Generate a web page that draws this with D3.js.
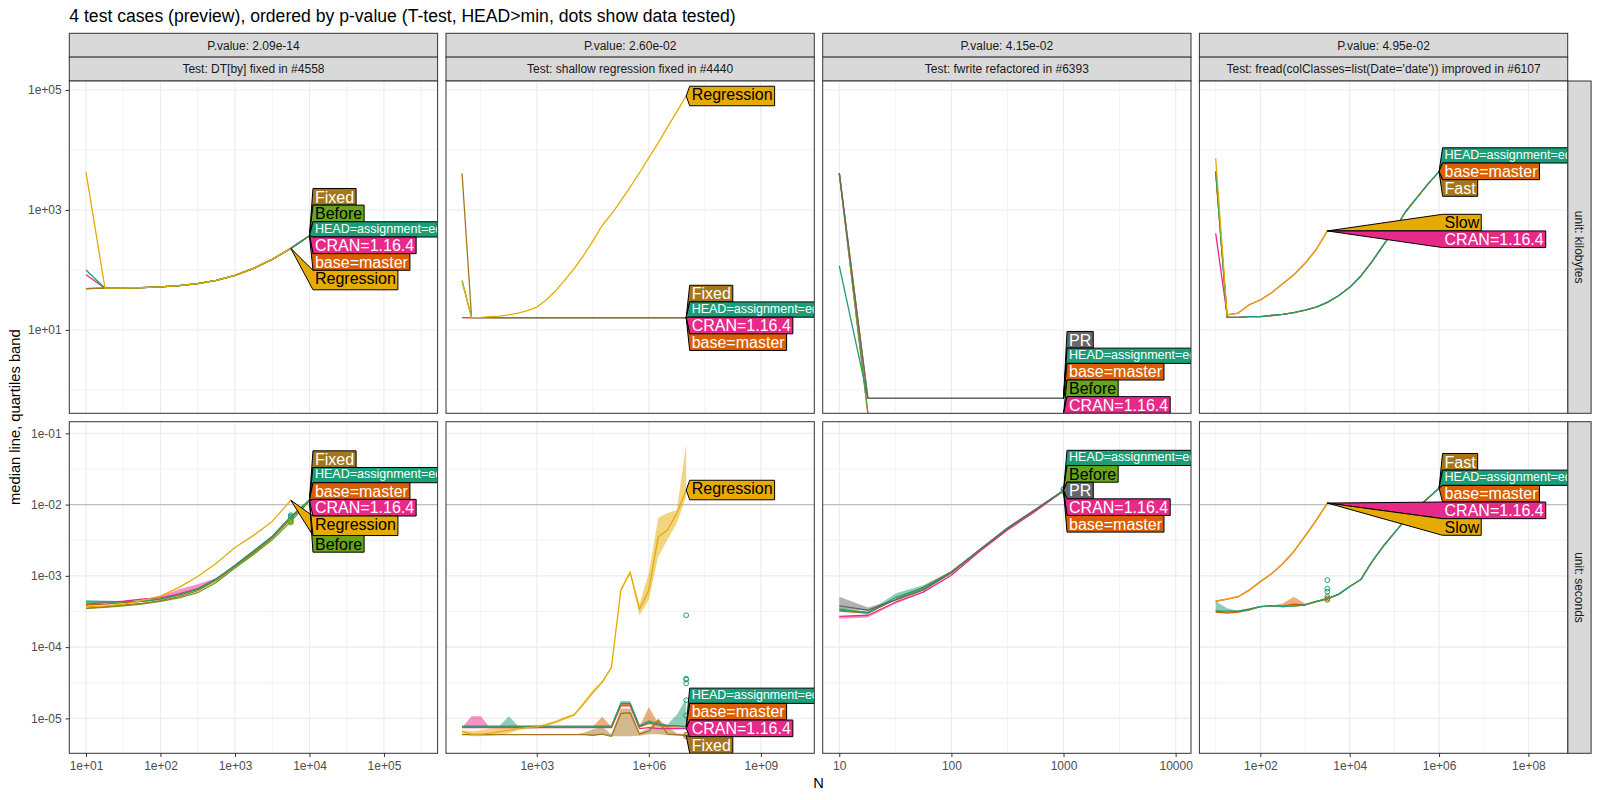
<!DOCTYPE html>
<html lang="en">
<head>
  <meta charset="UTF-8">
  <title>atime test cases</title>
  <script src="https://d3js.org/d3.v7.min.js"></script>
  <style>
    body { margin: 0; background: #fff; }
    svg text { font-family: "Liberation Sans", Arial, Helvetica, sans-serif; }
  </style>
</head>
<body>
<script>
// ---------------- data ----------------
const title = "4 test cases (preview), ordered by p-value (T-test, HEAD>min, dots show data tested)";
const pValues = ["P.value: 2.09e-14", "P.value: 2.60e-02", "P.value: 4.15e-02", "P.value: 4.95e-02"];
const testNames = [
  "Test: DT[by] fixed in #4558",
  "Test: shallow regression fixed in #4440",
  "Test: fwrite refactored in #6393",
  "Test: fread(colClasses=list(Date='date')) improved in #6107"
];
const units = ["unit: kilobytes", "unit: seconds"];

// tick labels
const xMajorTicks = [[1e1, 1e2, 1e3, 1e4, 1e5], [1e3, 1e6, 1e9], [10, 100, 1000, 10000], [1e2, 1e4, 1e6, 1e8]];
const xMinorTicks = [[10 ** 1.5, 10 ** 2.5, 10 ** 3.5, 10 ** 4.5, 10 ** 5.5], [10 ** 1.5, 10 ** 4.5, 10 ** 7.5], [10 ** 1.5, 10 ** 2.5, 10 ** 3.5], [1e1, 1e3, 1e5, 1e7]];
const yMajorTicks = [[1e1, 1e3, 1e5], [1e-5, 1e-4, 1e-3, 1e-2, 1e-1]];
const yMinorTicks = [[1e0, 1e2, 1e4], [10 ** -4.5, 10 ** -3.5, 10 ** -2.5, 10 ** -1.5]];

// --- DT[by] ---
const byN = [10, 18, 32, 56, 100, 178, 316, 562, 1000, 1780, 3160, 5620, 10000];
const byKbHEAD = [100, 49.6, 50, 50.8, 52.2, 54.7, 59, 67, 81, 106, 150, 229, 372];
const byKbBase = [49, 49.6, 50, 50.8, 52.2, 54.7, 59, 67, 81, 106, 150, 229, 372];
const byKbCRAN = [83, 49.6, 50, 50.8, 52.2, 54.7, 59, 67, 81, 106, 150, 229, 372];
const byKbBefore = [49, 49.6, 50, 50.8, 52.2, 54.7, 59, 67, 81, 106, 150, 229, 372];
const byKbFixed = [49, 49.6, 50, 50.8, 52.2, 54.7, 59, 67, 81, 106, 150, 229, 372];
const byKbRegression = [4260, 49.6, 50, 50.8, 52.2, 54.7, 59, 67, 81, 106, 150, 229];
const bySecHEAD = [4.3e-4, 4.3e-4, 4.3e-4, 4.4e-4, 4.7e-4, 5.4e-4, 6.5e-4, 9.1e-4, 1.41e-3, 2.24e-3, 3.6e-3, 6.8e-3, 1.15e-2];
const bySecHEADLo = [3.9e-4, 4.1e-4, 4.3e-4, 4.4e-4, 4.7e-4, 5.4e-4, 6.5e-4, 9.1e-4, 1.41e-3, 2.24e-3, 3.6e-3, 6.8e-3, 1.15e-2];
const bySecHEADHi = [4.6e-4, 4.5e-4, 4.4e-4, 4.4e-4, 4.7e-4, 5.4e-4, 6.5e-4, 9.1e-4, 1.41e-3, 2.24e-3, 3.6e-3, 6.8e-3, 1.15e-2];
const bySecBase = [3.9e-4, 4.0e-4, 4.2e-4, 4.4e-4, 4.7e-4, 5.4e-4, 6.5e-4, 8.9e-4, 1.38e-3, 2.2e-3, 3.5e-3, 6.6e-3, 1.15e-2];
const bySecCRAN = [4.0e-4, 4.2e-4, 4.4e-4, 4.7e-4, 4.9e-4, 5.6e-4, 6.6e-4, 9.1e-4, 1.38e-3, 2.2e-3, 3.5e-3, 6.5e-3, 1.12e-2];
const bySecCRANHi = [4.0e-4, 4.2e-4, 4.4e-4, 4.7e-4, 5.2e-4, 6.5e-4, 7.6e-4, 9.3e-4, 1.38e-3, 2.2e-3, 3.5e-3, 6.5e-3, 1.12e-2];
const bySecBefore = [3.5e-4, 3.6e-4, 3.8e-4, 4.0e-4, 4.4e-4, 4.9e-4, 5.8e-4, 8.1e-4, 1.29e-3, 2.0e-3, 3.2e-3, 5.8e-3, 1.12e-2];
const bySecFixed = [3.5e-4, 3.7e-4, 3.9e-4, 4.1e-4, 4.5e-4, 5.1e-4, 6.2e-4, 8.7e-4, 1.35e-3, 2.1e-3, 3.4e-3, 6.3e-3, 1.17e-2];
const bySecRegression = [3.7e-4, 3.8e-4, 4.0e-4, 4.5e-4, 5.2e-4, 6.9e-4, 9.8e-4, 1.5e-3, 2.5e-3, 3.7e-3, 5.8e-3, 1.15e-2];
const byDotN = 5620;
const byDotsHEAD = [7.1e-3, 6.8e-3, 6.6e-3];
const byDotsBefore = [6.0e-3, 5.8e-3, 5.6e-3];

// --- shallow regression ---
const shN = [10, 18, 32, 56, 100, 178, 316, 562, 1e3, 1.78e3, 3.16e3, 5.62e3, 1e4, 1.78e4, 3.16e4, 5.62e4,
  1e5, 1.78e5, 3.16e5, 5.62e5, 1e6, 1.78e6, 3.16e6, 5.62e6, 1e7];
const shKbRegression = [66, 16, 16.2, 16.6, 17, 17.8, 19, 20.9, 24, 31.6, 44.7, 67.6, 105, 174, 302, 550,
  851, 1413, 2399, 4169, 7413, 13183, 23988, 43652, 79433];
const shKbHEAD = [66, 16, 16, 16, 16, 16, 16, 16, 16, 16, 16, 16, 16, 16, 16, 16, 16, 16, 16, 16, 16, 16, 16, 16, 16];
const shKbCRAN = [16, 16, 16, 16, 16, 16, 16, 16, 16, 16, 16, 16, 16, 16, 16, 16, 16, 16, 16, 16, 16, 16, 16, 16, 16];
const shKbBase = [16, 16, 16, 16, 16, 16, 16, 16, 16, 16, 16, 16, 16, 16, 16, 16, 16, 16, 16, 16, 16, 16, 16, 16, 16];
const shKbFixed = [4100, 16, 16, 16, 16, 16, 16, 16, 16, 16, 16, 16, 16, 16, 16, 16, 16, 16, 16, 16, 16, 16, 16, 16, 16];
const shSecRegression = [6.5e-6, 6.0e-6, 6.0e-6, 6.2e-6, 6.5e-6, 6.8e-6, 7.2e-6, 7.4e-6, 7.6e-6, 8.1e-6,
  8.9e-6, 1.0e-5, 1.12e-5, 1.6e-5, 2.3e-5, 3.2e-5, 5.2e-5, 6.3e-4, 1.12e-3, 3.4e-4,
  6.3e-4, 3.5e-3, 4.4e-3, 7.6e-3, 1.6e-2];
const shSecRegressionLo = [6.2e-6, 5.6e-6, 5.6e-6, 5.7e-6, 5.9e-6, 6.2e-6, 6.8e-6, 7.1e-6, 7.2e-6, 7.8e-6,
  8.5e-6, 9.6e-6, 1.08e-5, 1.5e-5, 2.2e-5, 3.1e-5, 5.0e-5, 6.0e-4, 1.05e-3, 2.8e-4,
  4.6e-4, 1.86e-3, 3.2e-3, 5.5e-3, 1.29e-2];
const shSecRegressionHi = [6.8e-6, 6.6e-6, 6.8e-6, 7.2e-6, 7.4e-6, 7.6e-6, 7.8e-6, 7.8e-6, 7.9e-6, 8.5e-6,
  9.3e-6, 1.05e-5, 1.17e-5, 1.7e-5, 2.5e-5, 3.4e-5, 5.4e-5, 6.6e-4, 1.2e-3, 4.0e-4,
  1.1e-3, 6.5e-3, 7.6e-3, 8.3e-3, 7.2e-2];
const shSecHEAD = [7.8e-6, 7.8e-6, 7.8e-6, 7.8e-6, 7.8e-6, 7.8e-6, 7.8e-6, 7.8e-6, 7.8e-6, 7.8e-6,
  7.8e-6, 7.8e-6, 7.8e-6, 7.8e-6, 7.8e-6, 7.8e-6, 7.8e-6, 1.62e-5, 1.62e-5, 7.8e-6,
  8.9e-6, 8.3e-6, 7.9e-6, 7.9e-6, 7.6e-6];
const shSecHEADHi = [7.8e-6, 7.8e-6, 7.8e-6, 7.8e-6, 7.8e-6, 1.07e-5, 7.8e-6, 7.8e-6, 7.8e-6, 7.8e-6,
  7.8e-6, 7.8e-6, 7.8e-6, 7.8e-6, 7.8e-6, 7.8e-6, 7.8e-6, 1.75e-5, 1.75e-5, 8.2e-6,
  9.5e-6, 8.6e-6, 8.2e-6, 1.12e-5, 1.9e-5];
const shSecBase = [7.6e-6, 7.6e-6, 7.6e-6, 7.6e-6, 7.6e-6, 7.6e-6, 7.6e-6, 7.6e-6, 7.6e-6, 7.6e-6,
  7.6e-6, 7.6e-6, 7.6e-6, 7.6e-6, 7.6e-6, 7.6e-6, 7.6e-6, 1.55e-5, 1.55e-5, 7.6e-6,
  8.5e-6, 8.1e-6, 7.6e-6, 7.6e-6, 7.6e-6];
const shSecBaseHi = [7.6e-6, 7.6e-6, 7.6e-6, 7.6e-6, 7.6e-6, 7.6e-6, 7.6e-6, 7.6e-6, 7.6e-6, 7.6e-6,
  7.6e-6, 7.6e-6, 7.6e-6, 7.6e-6, 7.6e-6, 1.05e-5, 7.6e-6, 1.6e-5, 1.6e-5, 7.6e-6,
  1.45e-5, 8.5e-6, 7.6e-6, 7.6e-6, 7.6e-6];
const shSecCRAN = [7.4e-6, 7.4e-6, 7.4e-6, 7.4e-6, 7.4e-6, 7.4e-6, 7.4e-6, 7.4e-6, 7.4e-6, 7.4e-6,
  7.4e-6, 7.4e-6, 7.4e-6, 7.4e-6, 7.4e-6, 7.4e-6, 7.4e-6, 1.5e-5, 1.5e-5, 7.2e-6,
  7.4e-6, 7.2e-6, 7.2e-6, 7.2e-6, 7.2e-6];
const shSecCRANHi = [7.4e-6, 1.07e-5, 1.07e-5, 7.4e-6, 7.4e-6, 7.4e-6, 7.4e-6, 7.4e-6, 7.4e-6, 7.4e-6,
  7.4e-6, 7.4e-6, 7.4e-6, 7.4e-6, 7.4e-6, 7.4e-6, 7.4e-6, 1.5e-5, 1.5e-5, 7.2e-6,
  7.4e-6, 7.2e-6, 7.2e-6, 7.2e-6, 7.2e-6];
const shSecFixed = [5.9e-6, 5.9e-6, 5.9e-6, 5.9e-6, 5.9e-6, 5.9e-6, 5.9e-6, 5.9e-6, 5.9e-6, 5.9e-6,
  5.9e-6, 5.9e-6, 5.9e-6, 5.9e-6, 5.8e-6, 6.0e-6, 5.6e-6, 1.17e-5, 1.2e-5, 6.0e-6,
  6.6e-6, 9.3e-6, 6.0e-6, 5.9e-6, 5.75e-6];
const shSecFixedLo = [5.9e-6, 5.9e-6, 5.9e-6, 5.9e-6, 5.9e-6, 5.9e-6, 5.9e-6, 5.9e-6, 5.9e-6, 5.9e-6,
  5.9e-6, 5.9e-6, 5.9e-6, 5.9e-6, 5.8e-6, 6.0e-6, 5.6e-6, 5.6e-6, 5.6e-6, 5.7e-6,
  6.0e-6, 6.0e-6, 5.8e-6, 5.7e-6, 5.6e-6];
const shSecFixedHi = [5.9e-6, 5.9e-6, 5.9e-6, 5.9e-6, 5.9e-6, 5.9e-6, 5.9e-6, 5.9e-6, 5.9e-6, 5.9e-6,
  5.9e-6, 5.9e-6, 5.9e-6, 6.3e-6, 7.0e-6, 7.6e-6, 6.0e-6, 1.38e-5, 1.38e-5, 6.4e-6,
  7.2e-6, 1.0e-5, 7.6e-6, 6.2e-6, 5.9e-6];
const shDotN = 1e7;
const shDotsHEAD = [2.8e-4, 3.6e-5, 3.5e-5, 3.1e-5, 1.8e-5, 1.1e-5];
const shDotsFixed = [5.6e-6, 5.9e-6];

// --- fwrite ---
const fwN = [10, 18, 32, 56, 100, 178, 316, 562, 1000];
const fwKbPR = [4100, 0.72, 0.72, 0.72, 0.72, 0.72, 0.72, 0.72, 0.72];
const fwKbHEAD = [117, 0.72, 0.72, 0.72, 0.72, 0.72, 0.72, 0.72, 0.72];
const fwKbBase = [4100, 0.72, 0.72, 0.72, 0.72, 0.72, 0.72, 0.72, 0.72];
const fwKbBefore = [4100, 0.4, 0.4, 0.4, 0.4, 0.4, 0.4, 0.4, 0.4];
const fwKbCRAN = [4100, 0.4, 0.4, 0.4, 0.4, 0.4, 0.4, 0.4, 0.4];
const fwSecHEAD = [3.4e-4, 3.0e-4, 5.0e-4, 6.8e-4, 1.12e-3, 2.3e-3, 4.7e-3, 8.5e-3, 1.58e-2];
const fwSecHEADHi = [3.6e-4, 3.1e-4, 5.7e-4, 7.4e-4, 1.15e-3, 2.3e-3, 4.7e-3, 8.5e-3, 1.58e-2];
const fwSecBefore = [3.3e-4, 3.1e-4, 4.7e-4, 6.5e-4, 1.12e-3, 2.3e-3, 4.6e-3, 8.5e-3, 1.58e-2];
const fwSecPR = [3.8e-4, 3.3e-4, 4.6e-4, 6.3e-4, 1.1e-3, 2.3e-3, 4.6e-3, 8.5e-3, 1.58e-2];
const fwSecPRLo = [3.5e-4, 3.2e-4, 4.6e-4, 6.3e-4, 1.1e-3, 2.3e-3, 4.6e-3, 8.5e-3, 1.58e-2];
const fwSecPRHi = [5.1e-4, 3.6e-4, 4.7e-4, 6.3e-4, 1.1e-3, 2.3e-3, 4.6e-3, 8.5e-3, 1.58e-2];
const fwSecCRAN = [2.7e-4, 2.8e-4, 4.3e-4, 5.9e-4, 1.02e-3, 2.2e-3, 4.4e-3, 8.1e-3, 1.55e-2];
const fwSecCRANLo = [2.5e-4, 2.6e-4, 4.1e-4, 5.8e-4, 1.0e-3, 2.2e-3, 4.4e-3, 8.1e-3, 1.55e-2];
const fwSecBase = [3.2e-4, 3.0e-4, 4.7e-4, 6.9e-4, 1.15e-3, 2.3e-3, 4.7e-3, 8.5e-3, 1.55e-2];
const fwDotN = 1000;
const fwDotsHEAD = [1.6e-2, 1.66e-2];
const fwDotsBase = [1.52e-2];

// --- fread ---
const frN = [10, 18, 32, 56, 100, 178, 316, 562, 1e3, 1.78e3, 3.16e3, 5.62e3, 1e4, 1.78e4, 3.16e4, 5.62e4,
  1e5, 1.78e5, 3.16e5, 5.62e5, 1e6];
const frKbHEAD = [4365, 16.2, 16.2, 16.6, 16.6, 17.4, 18.2, 19.5, 21.4, 24, 28.8, 37.2, 51.3, 79.4, 138, 257, 468, 933, 1585, 2692, 4365];
const frKbBase = [4365, 16.2, 16.2, 16.6, 16.6, 17.4, 18.2, 19.5, 21.4, 24, 28.8, 37.2, 51.3, 79.4, 138, 257, 468, 933, 1585, 2692, 4365];
const frKbFast = [4365, 16.2, 16.2, 16.6, 16.6, 17.4, 18.2, 19.5, 21.4, 24, 28.8, 37.2, 51.3, 79.4, 138, 257, 468, 933, 1585, 2692, 4365];
const frKbSlow = [7244, 17.8, 19.1, 26.3, 31.6, 41.7, 58.9, 83.2, 129, 219, 447];
const frKbCRAN = [407, 17.8, 19.1, 26.3, 31.6, 41.7, 58.9, 83.2, 129, 219, 447];
const frSecHEAD = [3.2e-4, 3.2e-4, 3.2e-4, 3.4e-4, 3.7e-4, 3.8e-4, 3.7e-4, 3.8e-4, 3.9e-4, 4.4e-4, 4.8e-4,
  5.5e-4, 7.1e-4, 8.9e-4, 1.58e-3, 2.6e-3, 4.0e-3, 6.2e-3, 8.9e-3, 1.23e-2, 1.7e-2];
const frSecHEADHi = [4.4e-4, 3.5e-4, 3.2e-4, 3.4e-4, 3.7e-4, 3.8e-4, 3.7e-4, 3.8e-4, 3.9e-4, 4.4e-4, 5.0e-4,
  5.5e-4, 7.1e-4, 8.9e-4, 1.58e-3, 2.6e-3, 4.0e-3, 6.2e-3, 8.9e-3, 1.23e-2, 1.7e-2];
const frSecBase = [3.1e-4, 3.0e-4, 3.1e-4, 3.3e-4, 3.7e-4, 3.8e-4, 3.8e-4, 4.0e-4, 3.9e-4, 4.4e-4, 4.8e-4,
  5.5e-4, 7.1e-4, 8.9e-4, 1.58e-3, 2.6e-3, 4.0e-3, 6.2e-3, 8.9e-3, 1.23e-2, 1.7e-2];
const frSecBaseHi = [3.1e-4, 3.0e-4, 3.1e-4, 3.3e-4, 3.7e-4, 3.8e-4, 4.1e-4, 5.1e-4, 4.1e-4, 4.4e-4, 4.8e-4,
  5.5e-4, 7.1e-4, 8.9e-4, 1.58e-3, 2.6e-3, 4.0e-3, 6.2e-3, 8.9e-3, 1.23e-2, 1.7e-2];
const frSecFast = [3.2e-4, 3.1e-4, 3.2e-4, 3.4e-4, 3.7e-4, 3.8e-4, 3.7e-4, 3.8e-4, 3.9e-4, 4.3e-4, 4.7e-4,
  5.5e-4, 7.1e-4, 8.9e-4, 1.58e-3, 2.6e-3, 4.0e-3, 6.2e-3, 8.9e-3, 1.23e-2, 1.7e-2];
const frSecSlow = [4.4e-4, 4.7e-4, 5.1e-4, 6.3e-4, 8.3e-4, 1.07e-3, 1.48e-3, 2.2e-3, 3.6e-3, 6.0e-3, 1.05e-2];
const frSecCRAN = [4.4e-4, 4.7e-4, 5.1e-4, 6.3e-4, 8.3e-4, 1.07e-3, 1.48e-3, 2.2e-3, 3.6e-3, 6.0e-3, 1.05e-2];
const frDotN = 3160;
const frDotsHEAD = [8.7e-4, 6.6e-4, 6.0e-4, 5.1e-4];
const frDotsFast = [4.8e-4, 4.6e-4];

// label stacking order (top to bottom) in each panel
const byOrderKb = ["Fixed", "Before", "HEAD", "CRAN", "base", "Regression"];
const byOrderSec = ["Fixed", "HEAD", "base", "CRAN", "Regression", "Before"];
const shOrderKb = ["Regression", "Fixed", "HEAD", "CRAN", "base"];
const shOrderSec = ["Regression", "HEAD", "base", "CRAN", "Fixed"];
const fwOrderKb = ["PR", "HEAD", "base", "Before", "CRAN"];
const fwOrderSec = ["HEAD", "Before", "PR", "CRAN", "base"];
const frOrderKb = ["HEAD", "base", "Fast", "Slow", "CRAN"];
const frOrderSec = ["Fast", "HEAD", "base", "CRAN", "Slow"];

// ---------------- styles ----------------
const versionNames = {
  HEAD: "HEAD=assignment=equal", base: "base=master", CRAN: "CRAN=1.16.4",
  Before: "Before", Regression: "Regression", Fixed: "Fixed", PR: "PR", Fast: "Fast", Slow: "Slow"
};
const colors = {
  HEAD: "#1B9E77", base: "#D95F02", CRAN: "#E7298A", Before: "#66A61E",
  Regression: "#E6AB02", Slow: "#E6AB02", Fixed: "#A6761D", Fast: "#A6761D", PR: "#666666"
};
const labelInk = {
  HEAD: "#fff", base: "#fff", CRAN: "#fff", Before: "#000", Regression: "#000",
  Slow: "#000", Fixed: "#fff", Fast: "#fff", PR: "#fff"
};
const drawOrder = ["CRAN", "base", "Before", "Fixed", "Fast", "HEAD", "PR", "Slow", "Regression"];

// panel table built from the arrays above
const panels = [
  {row: 0, col: 0, N: byN, order: byOrderKb,
    lines: {HEAD: byKbHEAD, base: byKbBase, CRAN: byKbCRAN, Before: byKbBefore, Fixed: byKbFixed, Regression: byKbRegression},
    bands: {}, dots: []},
  {row: 0, col: 1, N: shN, order: shOrderKb,
    lines: {HEAD: shKbHEAD, base: shKbBase, CRAN: shKbCRAN, Fixed: shKbFixed, Regression: shKbRegression},
    bands: {}, dots: []},
  {row: 0, col: 2, N: fwN, order: fwOrderKb,
    lines: {HEAD: fwKbHEAD, base: fwKbBase, CRAN: fwKbCRAN, Before: fwKbBefore, PR: fwKbPR},
    bands: {}, dots: []},
  {row: 0, col: 3, N: frN, order: frOrderKb,
    lines: {HEAD: frKbHEAD, base: frKbBase, CRAN: frKbCRAN, Fast: frKbFast, Slow: frKbSlow},
    bands: {}, dots: []},
  {row: 1, col: 0, N: byN, order: byOrderSec,
    lines: {HEAD: bySecHEAD, base: bySecBase, CRAN: bySecCRAN, Before: bySecBefore, Fixed: bySecFixed, Regression: bySecRegression},
    bands: {HEAD: [bySecHEADLo, bySecHEADHi], CRAN: [bySecCRAN, bySecCRANHi]},
    dots: [{s: "HEAD", N: byDotN, v: byDotsHEAD}, {s: "Before", N: byDotN, v: byDotsBefore}]},
  {row: 1, col: 1, N: shN, order: shOrderSec,
    lines: {HEAD: shSecHEAD, base: shSecBase, CRAN: shSecCRAN, Fixed: shSecFixed, Regression: shSecRegression},
    bands: {Regression: [shSecRegressionLo, shSecRegressionHi], HEAD: [shSecHEAD, shSecHEADHi],
      base: [shSecBase, shSecBaseHi], CRAN: [shSecCRAN, shSecCRANHi], Fixed: [shSecFixedLo, shSecFixedHi]},
    dots: [{s: "HEAD", N: shDotN, v: shDotsHEAD}, {s: "Fixed", N: shDotN, v: shDotsFixed}]},
  {row: 1, col: 2, N: fwN, order: fwOrderSec,
    lines: {HEAD: fwSecHEAD, base: fwSecBase, CRAN: fwSecCRAN, Before: fwSecBefore, PR: fwSecPR},
    bands: {PR: [fwSecPRLo, fwSecPRHi], HEAD: [fwSecHEAD, fwSecHEADHi], CRAN: [fwSecCRANLo, fwSecCRAN]},
    dots: [{s: "HEAD", N: fwDotN, v: fwDotsHEAD}, {s: "base", N: fwDotN, v: fwDotsBase}]},
  {row: 1, col: 3, N: frN, order: frOrderSec,
    lines: {HEAD: frSecHEAD, base: frSecBase, CRAN: frSecCRAN, Fast: frSecFast, Slow: frSecSlow},
    bands: {HEAD: [frSecHEAD, frSecHEADHi], base: [frSecBase, frSecBaseHi]},
    dots: [{s: "HEAD", N: frDotN, v: frDotsHEAD}, {s: "Fast", N: frDotN, v: frDotsFast}]}
];

// ---------------- layout ----------------
const W = 1600, H = 800;
const PX0 = 69.3, PW = 368.3, PGAP = 8.4;
const colX = d3.range(4).map(c => PX0 + c * (PW + PGAP));
const rowY = [[81, 413.3], [421.7, 753.3]];
const colDomains = [[0.776, 5.72], [0.57, 10.43], [0.852, 4.137], [0.635, 8.88]];
const rowDomains = [[-0.39, 5.15], [-5.49, -0.837]];
const smallFont = 12;

const xScales = colDomains.map((d, c) =>
  d3.scaleLog().domain([10 ** d[0], 10 ** d[1]]).range([colX[c], colX[c] + PW]));
const yScales = rowDomains.map((d, r) =>
  d3.scaleLog().domain([10 ** d[0], 10 ** d[1]]).range([rowY[r][1], rowY[r][0]]));

const fmtE = d => {
  const e = Math.round(Math.log10(d));
  return "1e" + (e < 0 ? "-" : "+") + String(Math.abs(e)).padStart(2, "0");
};
const fmtPlain = d => String(Math.round(d));

const svg = d3.select("body").append("svg")
  .attr("width", W).attr("height", H);
svg.append("rect").attr("width", W).attr("height", H).attr("fill", "#fff");

svg.append("text")
  .attr("x", PX0).attr("y", 21.8)
  .attr("font-size", 17.6).attr("fill", "#000")
  .text(title);

// top strips
colX.forEach((x0, c) => {
  [[33.3, pValues[c]], [57.1, testNames[c]]].forEach(([sy, txt]) => {
    svg.append("rect").attr("x", x0).attr("y", sy).attr("width", PW).attr("height", 23.9)
      .attr("fill", "#D9D9D9").attr("stroke", "#333").attr("stroke-width", 1);
    svg.append("text").attr("x", x0 + PW / 2).attr("y", sy + 12 + 4.2)
      .attr("text-anchor", "middle").attr("font-size", smallFont).attr("fill", "#1A1A1A")
      .text(txt);
  });
});

// right strips
rowY.forEach(([y0, y1], r) => {
  svg.append("rect").attr("x", colX[3] + PW).attr("y", y0).attr("width", 23.4).attr("height", y1 - y0)
    .attr("fill", "#D9D9D9").attr("stroke", "#333").attr("stroke-width", 1);
  svg.append("text")
    .attr("transform", `translate(${colX[3] + PW + 11.7},${(y0 + y1) / 2}) rotate(90)`)
    .attr("dy", "0.35em").attr("text-anchor", "middle")
    .attr("font-size", smallFont).attr("fill", "#1A1A1A")
    .text(units[r]);
});

// stack labels so they do not overlap, keeping each near its line end
function stackLabels(items, top, bottom) {
  const place = c => {
    let off = 0, sum = 0;
    c.items.forEach(it => { sum += it.target - (off + it.h / 2); off += it.h; });
    c.H = off;
    c.top = Math.max(top, Math.min(bottom - c.H, sum / c.items.length));
  };
  let clusters = items.map(it => ({items: [it]}));
  clusters.forEach(place);
  let merged = true;
  while (merged) {
    merged = false;
    for (let i = 0; i < clusters.length - 1; i++) {
      const a = clusters[i], b = clusters[i + 1];
      if (a.top + a.H > b.top + 1e-6) {
        const c = {items: a.items.concat(b.items)};
        place(c);
        clusters.splice(i, 2, c);
        merged = true;
        break;
      }
    }
  }
  clusters.forEach(c => {
    let t = c.top;
    c.items.forEach(it => { it.top = t; t += it.h; });
  });
}

panels.forEach((p, i) => {
  const x = xScales[p.col], y = yScales[p.row];
  const x0 = colX[p.col], y0 = rowY[p.row][0], y1 = rowY[p.row][1];
  const g = svg.append("g");

  g.append("rect").attr("x", x0).attr("y", y0).attr("width", PW).attr("height", y1 - y0).attr("fill", "#fff");

  // grid
  const grid = (vals, isX, w) => vals.forEach(v => {
    const l = g.append("line").attr("stroke", "#EBEBEB").attr("stroke-width", w);
    if (isX) l.attr("x1", x(v)).attr("x2", x(v)).attr("y1", y0).attr("y2", y1);
    else l.attr("x1", x0).attr("x2", x0 + PW).attr("y1", y(v)).attr("y2", y(v));
  });
  grid(yMinorTicks[p.row], false, 0.6);
  grid(xMinorTicks[p.col], true, 0.6);
  grid(yMajorTicks[p.row], false, 1.1);
  grid(xMajorTicks[p.col], true, 1.1);

  if (p.row === 1) {
    g.append("line").attr("x1", x0).attr("x2", x0 + PW)
      .attr("y1", y(0.01)).attr("y2", y(0.01))
      .attr("stroke", "#BEBEBE").attr("stroke-width", 1.1);
  }

  const clipId = "clip" + i;
  svg.append("clipPath").attr("id", clipId).append("rect")
    .attr("x", x0).attr("y", y0).attr("width", PW).attr("height", y1 - y0);
  const cg = g.append("g").attr("clip-path", `url(#${clipId})`);

  const series = drawOrder.filter(s => p.lines[s]);

  // quartile bands
  series.forEach(s => {
    const b = p.bands[s];
    if (!b) return;
    const n = p.lines[s].length;
    const area = d3.area()
      .x(k => x(p.N[k]))
      .y0(k => y(b[0][k]))
      .y1(k => y(b[1][k]));
    cg.append("path").attr("d", area(d3.range(n)))
      .attr("fill", colors[s]).attr("fill-opacity", 0.5).attr("stroke", "none");
  });

  // median lines
  series.forEach(s => {
    const vals = p.lines[s];
    const line = d3.line().x((v, k) => x(p.N[k])).y(v => y(v));
    cg.append("path").attr("d", line(vals))
      .attr("fill", "none").attr("stroke", colors[s]).attr("stroke-width", 1.3)
      .attr("stroke-linejoin", "round");
  });

  // dots of the data tested
  p.dots.forEach(d => {
    d.v.forEach(v => {
      cg.append("circle").attr("cx", x(d.N)).attr("cy", y(v)).attr("r", 2.4)
        .attr("fill", "none").attr("stroke", colors[d.s]).attr("stroke-width", 1);
    });
  });

  // direct labels
  const items = p.order.map(s => {
    const vals = p.lines[s];
    const n = vals.length;
    const name = versionNames[s];
    const fs = s === "HEAD" ? 12.5 : 16;
    const h = /[gjpqy]/.test(name) ? fs * 1.22 : fs * 1.04;
    return {s, name, fs, h, tx: x(p.N[n - 1]), target: y(vals[n - 1])};
  });
  const xl = d3.max(items, d => d.tx) + 3.5;
  stackLabels(items, y0, y1);
  items.forEach(it => {
    const lg = cg.append("g");
    const poly = lg.append("polygon")
      .attr("fill", colors[it.s]).attr("stroke", "#000").attr("stroke-width", 1);
    const t = lg.append("text")
      .attr("x", xl + 2).attr("y", it.top + it.fs * 0.88)
      .attr("font-size", it.fs).attr("fill", labelInk[it.s])
      .text(it.name);
    const xr = xl + t.node().getComputedTextLength() + 4;
    const pts = [[it.tx, it.target], [xl, it.top], [xr, it.top], [xr, it.top + it.h], [xl, it.top + it.h]];
    poly.attr("points", pts.map(q => q.join(",")).join(" "));
  });

  g.append("rect").attr("x", x0).attr("y", y0).attr("width", PW).attr("height", y1 - y0)
    .attr("fill", "none").attr("stroke", "#333").attr("stroke-width", 1);
});

// axes
const styleAxis = sel => {
  sel.select(".domain").remove();
  sel.selectAll(".tick line").attr("stroke", "#333");
  sel.selectAll(".tick text").attr("fill", "#4D4D4D").attr("font-size", smallFont)
    .attr("font-family", "Liberation Sans, Arial, sans-serif");
};
rowY.forEach((ry, r) => {
  svg.append("g").attr("transform", `translate(${PX0},0)`)
    .call(d3.axisLeft(yScales[r]).tickValues(yMajorTicks[r]).tickFormat(fmtE)
      .tickSize(3.7).tickPadding(3.9))
    .call(styleAxis);
});
colX.forEach((cx, c) => {
  svg.append("g").attr("transform", `translate(0,${rowY[1][1]})`)
    .call(d3.axisBottom(xScales[c]).tickValues(xMajorTicks[c]).tickFormat(c === 2 ? fmtPlain : fmtE)
      .tickSize(3.7).tickPadding(4.5))
    .call(styleAxis);
});

// axis titles
svg.append("text")
  .attr("transform", `translate(20,${(rowY[0][0] + rowY[1][1]) / 2}) rotate(-90)`)
  .attr("text-anchor", "middle").attr("font-size", 14.7).attr("fill", "#000")
  .text("median line, quartiles band");
svg.append("text")
  .attr("x", (PX0 + colX[3] + PW) / 2).attr("y", 788)
  .attr("text-anchor", "middle").attr("font-size", 14.7).attr("fill", "#000")
  .text("N");
</script>
</body>
</html>
